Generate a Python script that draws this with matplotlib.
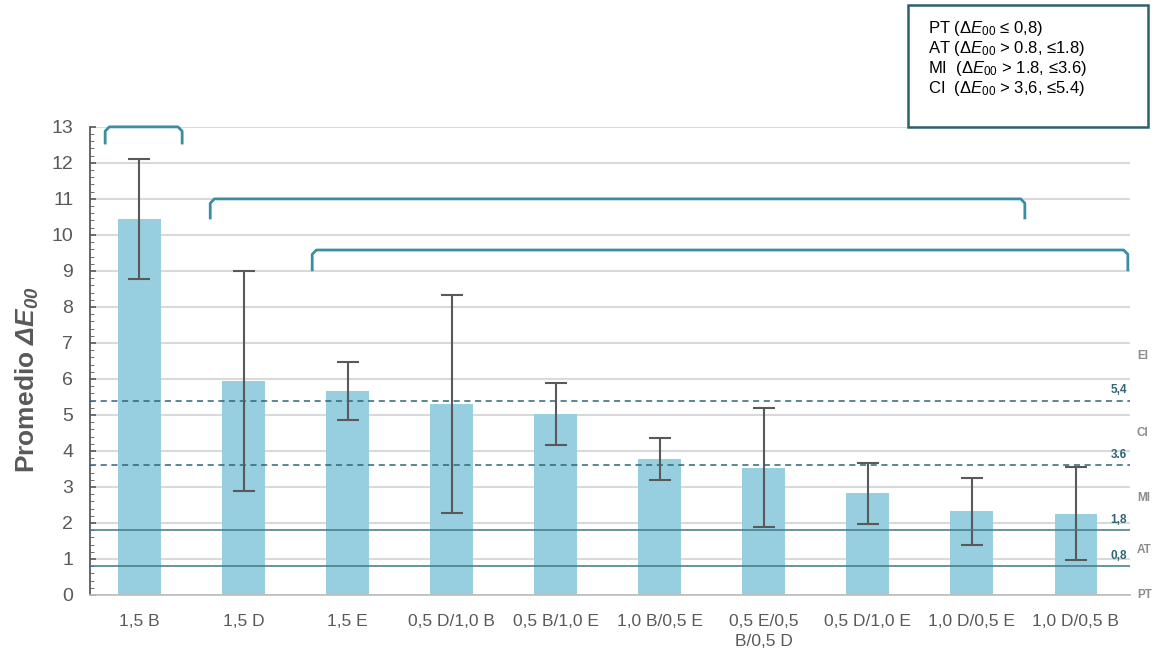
import numpy as np
import matplotlib.pyplot as plt
from matplotlib.ticker import MultipleLocator

plt.rcParams['font.family'] = ['Liberation Sans', 'DejaVu Sans']
plt.rcParams['mathtext.fontset'] = 'custom'
plt.rcParams['mathtext.rm'] = 'Liberation Sans'
plt.rcParams['mathtext.it'] = 'Liberation Sans:italic'
plt.rcParams['mathtext.bf'] = 'Liberation Sans:bold'
plt.rcParams['mathtext.bfit'] = 'Liberation Sans:bold:italic'

grupos = ['1,5 B', '1,5 D', '1,5 E', '0,5 D/1,0 B', '0,5 B/1,0 E', '1,0 B/0,5 E',
          '0,5 E/0,5\nB/0,5 D', '0,5 D/1,0 E', '1,0 D/0,5 E', '1,0 D/0,5 B']
promedio = [10.44, 5.95, 5.66, 5.30, 5.03, 3.77, 3.54, 2.82, 2.32, 2.26]
desv = [1.66, 3.06, 0.81, 3.02, 0.86, 0.58, 1.65, 0.85, 0.93, 1.29]

umbrales = [5.4, 3.6, 1.8, 0.8]
umbral_txt = ['5,4', '3.6', '1,8', '0,8']
umbral_estilo = ['--', '--', '-', '-']
zonas = ['EI', 'CI', 'MI', 'AT', 'PT']
zonas_y = [6.65, 4.5, 2.7, 1.25, 0.0]

# brackets: (x inicio, x fin, y superior, y patas)
corchetes = [(-0.33, 0.41, 13.0, 12.55),
             (0.68, 8.51, 11.0, 10.47),
             (1.66, 9.50, 9.58, 9.03)]

leyenda = [r'PT ($\mathit{\Delta E}_{\mathit{00}}$ ≤ 0,8)',
           r'AT ($\mathit{\Delta E}_{\mathit{00}}$ > 0.8, ≤1.8)',
           r'MI  ($\mathit{\Delta E}_{\mathit{00}}$ > 1.8, ≤3.6)',
           r'CI  ($\mathit{\Delta E}_{\mathit{00}}$ > 3,6, ≤5.4)']

gris = '#595959'
teal = '#2e6676'

fig = plt.figure(figsize=(11.55, 6.56), dpi=100)
ax = fig.add_axes([0.0779, 0.093, 0.9004, 0.7136])

x = np.arange(len(grupos))
ax.bar(x, promedio, width=0.41, color='#98cfe0', zorder=2)
ax.errorbar(x, promedio, yerr=desv, fmt='none', ecolor=gris, elinewidth=1.5,
            capsize=8, capthick=1.5, zorder=3)

for u, est in zip(umbrales, umbral_estilo):
    ax.axhline(u, color=teal if est == '--' else '#3f7887', lw=1.1, ls=est,
               dashes=(4, 3) if est == '--' else (None, None), zorder=4)
for u, t in zip(umbrales, umbral_txt):
    ax.text(9.49, u + 0.12, t, color=teal, fontsize=8.5, fontweight='bold',
            ha='right', va='bottom')
for z, zy in zip(zonas, zonas_y):
    ax.text(1.0 + 7 / 1040, zy, z, transform=ax.get_yaxis_transform(),
            color='#8c8c8c', fontsize=8.5, fontweight='bold', va='center',
            clip_on=False)

for x0, x1, ytop, ypie in corchetes:
    r = 0.04
    ax.plot([x0, x0, x0 + r, x1 - r, x1, x1],
            [ypie, ytop - 0.12, ytop, ytop, ytop - 0.12, ypie],
            color='#3a8ea2', lw=2, clip_on=False, zorder=5,
            solid_joinstyle='round')

ax.set_xlim(-0.476, 9.52)
ax.set_ylim(0, 13)
ax.yaxis.set_major_locator(MultipleLocator(1))
ax.yaxis.set_minor_locator(MultipleLocator(0.2))
ax.grid(axis='y', color='#d9d9d9', lw=1.5, zorder=0)
ax.set_axisbelow(True)
ax.set_xticks(x)
ax.set_xticklabels(grupos, fontsize=12.5, color=gris, linespacing=1.4)
ax.tick_params(axis='x', length=0, pad=14)
ax.tick_params(axis='y', which='major', labelsize=14, colors=gris, length=4,
               direction='in', width=1.2, pad=12)
ax.tick_params(axis='y', which='minor', length=3, direction='in', colors=gris)
for lado in ['top', 'right']:
    ax.spines[lado].set_visible(False)
ax.spines['left'].set_color(gris)
ax.spines['left'].set_linewidth(1.3)
ax.spines['bottom'].set_color('#bfbfbf')
ax.spines['bottom'].set_linewidth(1.3)

ax.set_ylabel(r'Promedio $\mathbfit{\Delta E}_{\mathbfit{00}}$', fontsize=19,
              fontweight='bold', color=gris)
ax.yaxis.set_label_coords(-0.047, 0.46)

# cuadro con los intervalos
fig.patches.append(plt.Rectangle((908 / 1155, 1 - 127 / 656), 240 / 1155, 122 / 656,
                                 transform=fig.transFigure, fill=False,
                                 edgecolor='#2f5f6f', lw=1.8))
for i, t in enumerate(leyenda):
    fig.text(928 / 1155, 1 - (28 + 20 * i) / 656, t, fontsize=12, color='black',
             va='center')

fig.savefig('out.png', dpi=100)
